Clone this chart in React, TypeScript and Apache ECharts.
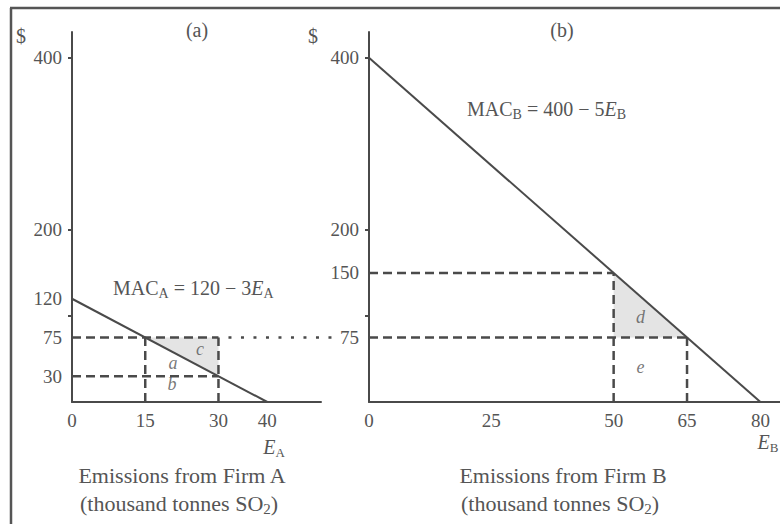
import React, { useEffect, useRef } from 'react';
import * as echarts from 'echarts';

const FONT = '"Liberation Serif", "Times New Roman", serif';
const INK = '#4a4a4a';
const TEXT = '#555555';
const SHADE = '#e4e4e4';

// ---- Panel (a): Firm A ----
const aYLabels = [30, 75, 120, 200, 400];
const aYTicks = [100, 200, 400];
const aXLabels = [0, 15, 30, 40];
const aMac = [[0, 120], [40, 0]];
const aDashed = [
  [[0, 75], [30, 75]],
  [[0, 30], [30, 30]],
  [[15, 0], [15, 75]],
  [[30, 0], [30, 75]],
];
const aShade = [[15, 75], [30, 75], [30, 30]];
const aLetters = [
  { name: 'a', value: [20.7, 45] },
  { name: 'b', value: [20.5, 21] },
  { name: 'c', value: [26.2, 62] },
];

// ---- Panel (b): Firm B ----
const bYLabels = [75, 150, 200, 400];
const bYTicks = [100, 200, 400];
const bXLabels = [0, 25, 50, 65, 80];
const bMac = [[0, 400], [80, 0]];
const bDashed = [
  [[0, 150], [50, 150]],
  [[0, 75], [65, 75]],
  [[50, 0], [50, 150]],
  [[65, 0], [65, 75]],
];
const bShade = [[50, 150], [50, 75], [65, 75]];
const bLetters = [
  { name: 'd', value: [55.5, 99] },
  { name: 'e', value: [55.5, 41] },
];

const PRICE_MAX = 430;
const TICK_FS = 19;

function makeAxes(xMax: number, xLabels: number[], yLabels: number[], yTicks: number[], idx: number) {
  const x = {
    type: 'value', gridIndex: idx, min: 0, max: xMax,
    splitLine: { show: false },
    axisLine: { show: true, onZero: false, lineStyle: { color: INK, width: 2 } },
    axisTick: { show: false },
    axisLabel: { customValues: xLabels, color: TEXT, fontFamily: FONT, fontSize: TICK_FS, margin: 9 },
  };
  const y = {
    type: 'value', gridIndex: idx, min: 0, max: PRICE_MAX,
    splitLine: { show: false },
    axisLine: { show: true, onZero: false, lineStyle: { color: INK, width: 2 } },
    axisTick: { show: true, customValues: yTicks, length: 4, lineStyle: { color: INK, width: 2 } },
    axisLabel: { customValues: yLabels, color: TEXT, fontFamily: FONT, fontSize: TICK_FS, margin: 10 },
  };
  return { x, y };
}

function panelSeries(idx: number, mac: number[][], dashed: number[][][], shade: number[][], letters: any[]) {
  const s: any[] = [];
  s.push({
    type: 'custom', xAxisIndex: idx, yAxisIndex: idx, z: 1,
    data: [shade[0]],
    renderItem: (_p: any, api: any) => ({
      type: 'polygon',
      shape: { points: shade.map((pt) => api.coord(pt)) },
      style: { fill: SHADE },
    }),
  });
  dashed.forEach((seg) => {
    s.push({
      type: 'line', xAxisIndex: idx, yAxisIndex: idx, z: 3, symbol: 'none',
      data: seg, lineStyle: { color: INK, width: 2.5, type: [9, 5] },
    });
  });
  s.push({
    type: 'line', xAxisIndex: idx, yAxisIndex: idx, z: 4, symbol: 'none',
    data: mac, lineStyle: { color: INK, width: 2 },
  });
  s.push({
    type: 'scatter', xAxisIndex: idx, yAxisIndex: idx, z: 5, symbolSize: 0,
    data: letters,
    label: {
      show: true, position: 'inside', formatter: (p: any) => p.name,
      fontFamily: FONT, fontStyle: 'italic', fontSize: 18, color: TEXT,
    },
  });
  return s;
}

const subRich = (size: number, sub: number) => ({
  m: { fontFamily: FONT, fontSize: size, color: TEXT, lineHeight: size + 4, verticalAlign: 'bottom', padding: [0, 0, 2, 0] },
  i: { fontFamily: FONT, fontSize: size, fontStyle: 'italic', color: TEXT, lineHeight: size + 4, verticalAlign: 'bottom', padding: [0, 0, 2, 0] },
  s: { fontFamily: FONT, fontSize: sub, color: TEXT, lineHeight: sub + 2, verticalAlign: 'bottom' },
});

export default function App() {
  const ref = useRef<HTMLDivElement>(null);
  useEffect(() => {
    document.body.style.margin = '0';
    const chart = echarts.init(ref.current!, undefined, { renderer: 'svg' });
    const A = makeAxes(51, aXLabels, aYLabels, aYTicks, 0);
    const B = makeAxes(84, bXLabels, bYLabels, bYTicks, 1);
    chart.setOption({
      animation: false,
      backgroundColor: '#ffffff',
      grid: [
        { left: 72, top: 32, width: 249, height: 370 },
        { left: 369, top: 32, width: 411, height: 370 },
      ],
      xAxis: [A.x, B.x],
      yAxis: [A.y, B.y],
      series: [
        ...panelSeries(0, aMac, aDashed, aShade, aLetters),
        ...panelSeries(1, bMac, bDashed, bShade, bLetters),
      ],
    });

    const start = chart.convertToPixel({ gridIndex: 0 }, [aDashed[0][1][0], aDashed[0][1][1]]) as number[];
    const bAxis = chart.convertToPixel({ gridIndex: 1 }, [0, aDashed[0][1][1]]) as number[];

    const txt = (text: string, x: number, y: number, size = 20, align = 'center', rich?: any) => ({
      type: 'text', x, y, z: 10,
      style: {
        text, fontFamily: FONT, fontSize: size, fill: TEXT,
        align, verticalAlign: 'middle', textAlign: align, textVerticalAlign: 'middle',
        rich,
      },
    });

    chart.setOption({
      graphic: [
        { type: 'line', shape: { x1: 10, y1: 8, x2: 780, y2: 8 }, style: { stroke: '#555', lineWidth: 2.5 } },
        { type: 'line', shape: { x1: 11, y1: 8, x2: 11, y2: 524 }, style: { stroke: '#555', lineWidth: 2.5 } },
        {
          type: 'line', z: 3,
          shape: { x1: start[0] + 10, y1: start[1], x2: bAxis[0] - 33, y2: bAxis[1] },
          style: { stroke: INK, lineWidth: 2.5, lineDash: [3, 9.5] },
        },
        txt('(a)', 197, 30, 20),
        txt('(b)', 562, 30, 20),
        txt('$', 21, 36, 20),
        txt('$', 313, 36, 20),
        txt('{m|MAC}{s|A}{m| = 120 − 3}{i|E}{s|A}', 113, 288, 20, 'left', subRich(20, 14)),
        txt('{m|MAC}{s|B}{m| = 400 − 5}{i|E}{s|B}', 467, 109, 20, 'left', subRich(20, 14)),
        txt('{i|E}{s|A}', 274, 447, 20, 'center', subRich(20, 13)),
        txt('{i|E}{s|B}', 768, 442, 20, 'center', subRich(20, 13)),
        txt('Emissions from Firm A', 182, 475, 22),
        txt('{m|(thousand tonnes SO}{s|2}{m|)}', 179, 503, 22, 'center', subRich(22, 15)),
        txt('Emissions from Firm B', 563, 475, 22),
        txt('{m|(thousand tonnes SO}{s|2}{m|)}', 560, 503, 22, 'center', subRich(22, 15)),
      ],
    });

    return () => chart.dispose();
  }, []);
  return <div ref={ref} style={{ width: 780, height: 524 }} />;
}
